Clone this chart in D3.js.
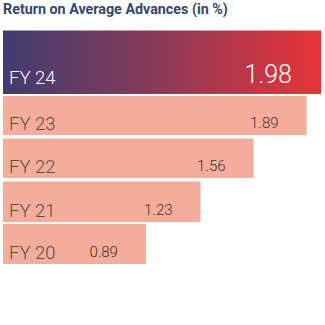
<!DOCTYPE html>
<html><head><meta charset="utf-8">
<script src="https://cdn.jsdelivr.net/npm/d3@7"></script>
<style>html,body{margin:0;padding:0;background:#fff;}svg{display:block;}</style>
</head><body>
<script>
const title = "Return on Average Advances (in %)";
const categories = ["FY 24", "FY 23", "FY 22", "FY 21", "FY 20"];
const values = [1.98, 1.89, 1.56, 1.23, 0.89];
const valueLabels = ["1.98", "1.89", "1.56", "1.23", "0.89"];

const W = 325, H = 325;
const svg = d3.select("body").append("svg").attr("width", W).attr("height", H);

const defs = svg.append("defs");
const grad = defs.append("linearGradient").attr("id", "g24")
  .attr("x1", "0%").attr("x2", "100%").attr("y1", "0%").attr("y2", "0%");
grad.append("stop").attr("offset", "0%").attr("stop-color", "#3f3c70");
grad.append("stop").attr("offset", "50%").attr("stop-color", "#8c3a57");
grad.append("stop").attr("offset", "100%").attr("stop-color", "#e83438");

svg.append("text").attr("x", 3).attr("y", 14)
  .attr("font-family", "Roboto, 'Open Sans', sans-serif")
  .attr("font-weight", 700).attr("font-size", 14.3)
  .attr("fill", "#33486a").text(title);

const x = d3.scaleLinear().domain([0, 1.98]).range([3, 321]);
const tops = [30.5, 96, 138.5, 181.5, 224];
const bottoms = [94, 135, 178, 222, 264];

const g = svg.append("g");
categories.forEach((c, i) => {
  const first = i === 0;
  g.append("rect")
    .attr("x", x(0)).attr("y", tops[i])
    .attr("width", x(values[i]) - x(0)).attr("height", bottoms[i] - tops[i])
    .attr("fill", first ? "url(#g24)" : "#f4ad9b");
  g.append("text")
    .attr("x", 9).attr("y", bottoms[i] - (first ? 10 : 5.5))
    .attr("font-family", "Roboto, sans-serif").attr("font-weight", 300)
    .attr("font-size", 18.5)
    .attr("fill", first ? "#ffffff" : "#5a4a4a").text(c);
  g.append("text")
    .attr("x", x(values[i]) - (first ? 29 : 28)).attr("y", bottoms[i] - (first ? 11 : 7))
    .attr("text-anchor", "end")
    .attr("font-family", "Roboto, sans-serif").attr("font-weight", 300)
    .attr("font-size", first ? 25 : 15)
    .attr("fill", first ? "#ffffff" : "#3e3030").text(valueLabels[i]);
});
</script>
</body></html>
